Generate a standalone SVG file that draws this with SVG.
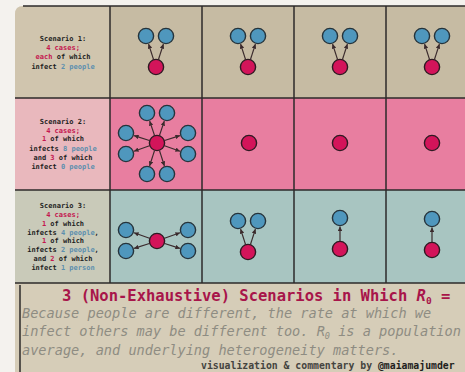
<svg xmlns="http://www.w3.org/2000/svg" width="465" height="372" viewBox="0 0 465 372">
<defs>
<style>
.b{fill:#4f97bd;stroke:#26343c;stroke-width:1.4}
.p{fill:#d3145a;stroke:#2e1a22;stroke-width:1.4}
.e{stroke:#3a2a2c;stroke-width:1.2;fill:none;marker-end:url(#ah)}
.grid{stroke:#2c2a2a;stroke-width:1.5;fill:none}
.lt{font-family:"DejaVu Sans Mono","Liberation Mono",monospace;font-size:7px;font-weight:bold;fill:#1e1e1e;text-anchor:middle}
.r{fill:#c4164f}
.bl{fill:#5d8fae}
.title{font-family:"DejaVu Sans Mono","Liberation Mono",monospace;font-size:15.5px;font-weight:bold;fill:#a8154a}
.para{font-family:"DejaVu Sans Mono","Liberation Mono",monospace;font-size:13.6px;font-style:italic;fill:#8e8c82}
.cred{font-family:"DejaVu Sans Mono","Liberation Mono",monospace;font-size:9.8px;font-weight:bold;fill:#45443f}
</style>
<marker id="ah" viewBox="0 0 6 6" refX="6" refY="3" markerWidth="4.5" markerHeight="4.5" markerUnits="userSpaceOnUse" orient="auto">
<path d="M0,0 L6,3 L0,6 z" fill="#3a2a2c"/>
</marker>
</defs>
<rect width="465" height="372" fill="#f4f2ee"/>
<g id="backgrounds">
<path d="M15,14 Q15,6 23,6 L110,6 L110,98 L15,98 Z" fill="#d0c5ae"/>
<rect x="110" y="6" width="360" height="92" fill="#c6bba3"/>
<rect x="15" y="98" width="95" height="92" fill="#e9b8bd"/>
<rect x="110" y="98" width="360" height="92" fill="#e87ea0"/>
<rect x="15" y="190" width="95" height="93" fill="#c9cab9"/>
<rect x="110" y="190" width="360" height="93" fill="#a8c5c1"/>
<rect x="15" y="283" width="455" height="95" fill="#d6cdb8"/>
</g>
<g id="grid" class="grid">
<path d="M23,6 L470,6"/>
<path d="M15,98 L470,98"/>
<path d="M15,190 L470,190"/>
<path d="M15,283 L470,283"/>
<path d="M110,6 L110,283"/>
<path d="M202,6 L202,283"/>
<path d="M294,6 L294,283"/>
<path d="M386,6 L386,283"/>
<path d="M20,285 L20,372"/>
</g>
<g id="label-s1">
<text class="lt" x="63" y="40.5">Scenario 1:</text>
<text class="lt" x="63" y="50"><tspan class="r">4 cases;</tspan></text>
<text class="lt" x="63" y="59"><tspan class="r">each</tspan> of which</text>
<text class="lt" x="63" y="68.5">infect <tspan class="bl">2 people</tspan></text>
</g>
<g id="label-s2">
<text class="lt" x="63" y="123.5">Scenario 2:</text>
<text class="lt" x="63" y="132.5"><tspan class="r">4 cases;</tspan></text>
<text class="lt" x="63" y="141"><tspan class="r">1</tspan> of which</text>
<text class="lt" x="63" y="150.5">infects <tspan class="bl">8 people</tspan></text>
<text class="lt" x="63" y="159.5">and <tspan class="r">3</tspan> of which</text>
<text class="lt" x="63" y="168.5">infect <tspan class="bl">0 people</tspan></text>
</g>
<g id="label-s3">
<text class="lt" x="63" y="207.5">Scenario 3:</text>
<text class="lt" x="63" y="216.5"><tspan class="r">4 cases;</tspan></text>
<text class="lt" x="63" y="225.5"><tspan class="r">1</tspan> of which</text>
<text class="lt" x="63" y="234.5">infects <tspan class="bl">4 people</tspan>,</text>
<text class="lt" x="63" y="243"><tspan class="r">1</tspan> of which</text>
<text class="lt" x="63" y="251.5">infects <tspan class="bl">2 people</tspan>,</text>
<text class="lt" x="63" y="260.5">and <tspan class="r">2</tspan> of which</text>
<text class="lt" x="63" y="270">infect <tspan class="bl">1 person</tspan></text>
</g>
<g id="connectors">
<path class="e" d="M153.5,59.4 L148.6,44.1"/><path class="e" d="M158.5,59.4 L163.4,44.1"/>
<path class="e" d="M245.5,59.4 L240.6,44.1"/><path class="e" d="M250.5,59.4 L255.4,44.1"/>
<path class="e" d="M337.5,59.4 L332.6,44.1"/><path class="e" d="M342.5,59.4 L347.4,44.1"/>
<path class="e" d="M429.5,59.4 L424.6,44.1"/><path class="e" d="M434.5,59.4 L439.4,44.1"/>
<path class="e" d="M154.5,135.4 L149.7,121.1"/><path class="e" d="M159.5,135.4 L164.3,121.1"/>
<path class="e" d="M149.4,140.5 L134.1,135.6"/><path class="e" d="M164.6,140.5 L179.9,135.6"/>
<path class="e" d="M149.5,145.7 L134.0,151.2"/><path class="e" d="M164.5,145.7 L180.0,151.2"/>
<path class="e" d="M154.5,150.6 L149.6,165.9"/><path class="e" d="M159.5,150.6 L164.4,165.9"/>
<path class="e" d="M149.5,238.3 L134.0,232.8"/><path class="e" d="M149.4,243.5 L134.1,248.4"/>
<path class="e" d="M164.5,238.3 L180.0,232.8"/><path class="e" d="M164.6,243.5 L179.9,248.4"/>
<path class="e" d="M245.5,244.4 L240.6,229.1"/><path class="e" d="M250.5,244.4 L255.4,229.1"/>
<path class="e" d="M340,241 L340,226.5"/>
<path class="e" d="M432,242 L432,227.5"/>
</g>
<g id="s1c1"><circle class="b" cx="146" cy="36" r="7.6"/><circle class="b" cx="166" cy="36" r="7.6"/><circle class="p" cx="156" cy="67" r="7.6"/></g>
<g id="s1c2"><circle class="b" cx="238" cy="36" r="7.6"/><circle class="b" cx="258" cy="36" r="7.6"/><circle class="p" cx="248" cy="67" r="7.6"/></g>
<g id="s1c3"><circle class="b" cx="330" cy="36" r="7.6"/><circle class="b" cx="350" cy="36" r="7.6"/><circle class="p" cx="340" cy="67" r="7.6"/></g>
<g id="s1c4"><circle class="b" cx="422" cy="36" r="7.6"/><circle class="b" cx="442" cy="36" r="7.6"/><circle class="p" cx="432" cy="67" r="7.6"/></g>
<g id="s2c1">
<circle class="b" cx="147" cy="113" r="7.6"/><circle class="b" cx="167" cy="113" r="7.6"/>
<circle class="b" cx="126" cy="133" r="7.6"/><circle class="b" cx="188" cy="133" r="7.6"/>
<circle class="b" cx="126" cy="154" r="7.6"/><circle class="b" cx="188" cy="154" r="7.6"/>
<circle class="b" cx="147" cy="174" r="7.6"/><circle class="b" cx="167" cy="174" r="7.6"/>
<circle class="p" cx="157" cy="143" r="7.6"/>
</g>
<g id="s2c2"><circle class="p" cx="249" cy="143" r="7.6"/></g>
<g id="s2c3"><circle class="p" cx="340" cy="143" r="7.6"/></g>
<g id="s2c4"><circle class="p" cx="432" cy="143" r="7.6"/></g>
<g id="s3c1">
<circle class="b" cx="126" cy="230" r="7.6"/><circle class="b" cx="126" cy="251" r="7.6"/>
<circle class="b" cx="188" cy="230" r="7.6"/><circle class="b" cx="188" cy="251" r="7.6"/>
<circle class="p" cx="157" cy="241" r="7.6"/>
</g>
<g id="s3c2"><circle class="b" cx="238" cy="221" r="7.6"/><circle class="b" cx="258" cy="221" r="7.6"/><circle class="p" cx="248" cy="252" r="7.6"/></g>
<g id="s3c3"><circle class="b" cx="340" cy="218" r="7.6"/><circle class="p" cx="340" cy="249" r="7.6"/></g>
<g id="s3c4"><circle class="b" cx="432" cy="219" r="7.6"/><circle class="p" cx="432" cy="250" r="7.6"/></g>
<g id="caption">
<text class="title" x="62" y="300.5">3 (Non-Exhaustive) Scenarios in Which <tspan font-style="italic">R</tspan><tspan font-size="9.5px" dy="3">0</tspan><tspan dy="-3"> =</tspan></text>
<text class="para" x="22" y="317.5">Because people are different, the rate at which we</text>
<text class="para" x="22" y="336">infect others may be different too. R<tspan font-size="8.5px" dy="2.5">0</tspan><tspan dy="-2.5"> is a population</tspan></text>
<text class="para" x="22" y="354.5">average, and underlying heterogeneity matters.</text>
<text class="cred" x="201" y="369">visualization &amp; commentary by <tspan fill="#1e1e1c">@maiamajumder</tspan></text>
</g>
</svg>
